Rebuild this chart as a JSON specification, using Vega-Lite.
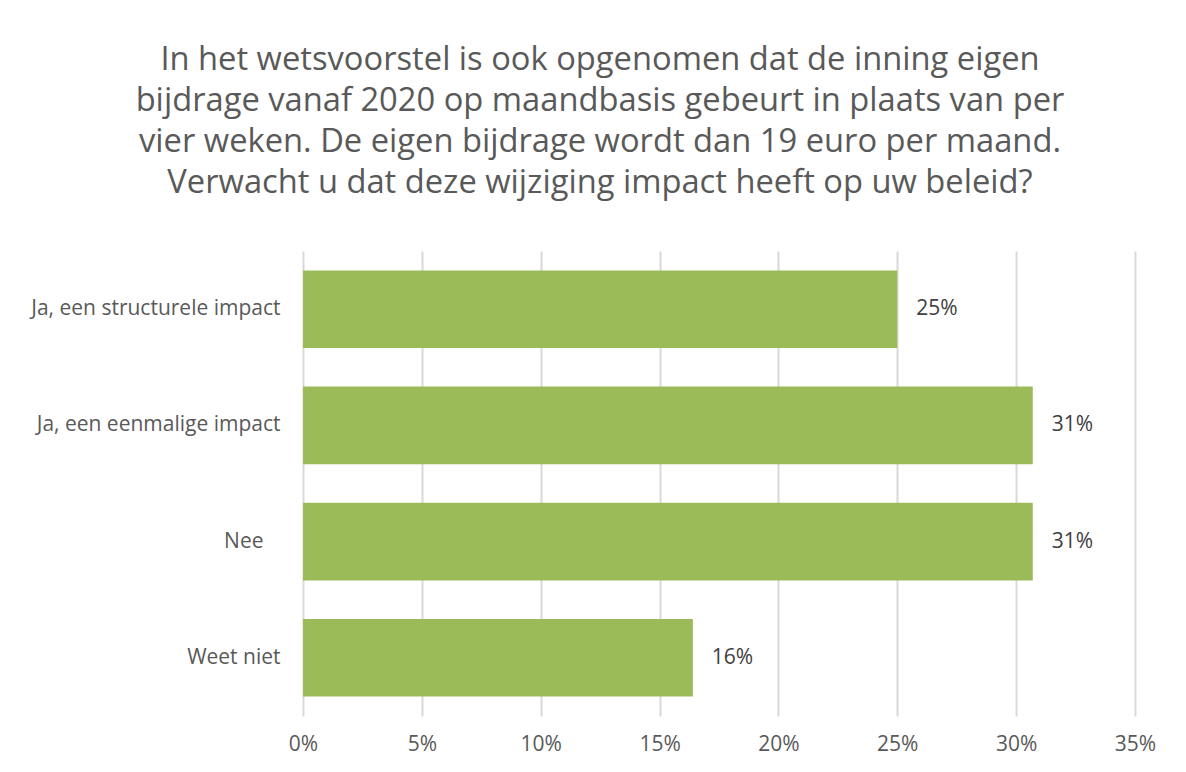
{
  "$schema": "https://vega.github.io/schema/vega-lite/v6.json",
  "autosize": {"type": "none"},
  "padding": {"left": 303, "top": 251, "right": 51, "bottom": 56},
  "width": 832,
  "height": 465,
  "background": "#ffffff",
  "title": {
    "text": [
      "In het wetsvoorstel is ook opgenomen dat de inning eigen",
      "bijdrage vanaf 2020 op maandbasis gebeurt in plaats van per",
      "vier weken. De eigen bijdrage wordt dan 19 euro per maand.",
      "Verwacht u dat deze wijziging impact heeft op uw beleid?"
    ],
    "anchor": "middle",
    "frame": "group",
    "dx": -119,
    "offset": 51,
    "font": "Open Sans",
    "fontSize": 32.7,
    "fontWeight": "normal",
    "color": "#595959",
    "lineHeight": 41
  },
  "data": {
    "values": [
      {"antwoord": "Ja, een structurele impact", "aandeel": 0.25},
      {"antwoord": "Ja, een eenmalige impact", "aandeel": 0.307},
      {"antwoord": "Nee", "aandeel": 0.307},
      {"antwoord": "Weet niet", "aandeel": 0.164}
    ]
  },
  "encoding": {
    "y": {
      "field": "antwoord",
      "type": "nominal",
      "sort": null,
      "scale": {"paddingInner": 0.333, "paddingOuter": 0.1667},
      "axis": {
        "title": null,
        "domain": false,
        "ticks": false,
        "labelFont": "Open Sans",
        "labelFontSize": 21,
        "labelLimit": 400,
        "labelColor": "#595959",
        "labelPadding": {"condition": {"test": "datum.value === 'Nee'", "value": 40}, "value": 23}
      }
    },
    "x": {
      "field": "aandeel",
      "type": "quantitative",
      "scale": {"domain": [0, 0.35], "nice": false},
      "axis": {
        "title": null,
        "format": ".0%",
        "values": [0, 0.05, 0.1, 0.15, 0.2, 0.25, 0.3, 0.35],
        "domain": false,
        "ticks": false,
        "grid": true,
        "gridColor": "#d9d9d9",
        "gridWidth": 2,
        "labelFlush": false,
        "labelFont": "Open Sans",
        "labelFontSize": 21,
        "labelColor": "#595959",
        "labelPadding": 17
      }
    }
  },
  "layer": [
    {"mark": {"type": "bar", "color": "#9bbb59"}},
    {
      "mark": {"type": "text", "align": "left", "dx": 19, "font": "Open Sans", "fontSize": 21, "color": "#404040"},
      "encoding": {"text": {"field": "aandeel", "type": "quantitative", "format": ".0%"}}
    }
  ],
  "config": {"view": {"stroke": null}}
}
